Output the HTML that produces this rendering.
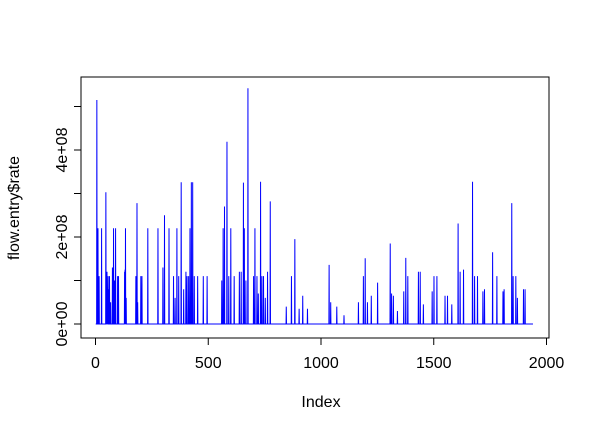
<!DOCTYPE html>
<html><head><meta charset="utf-8"><style>
body{margin:0;background:#fff}
svg text{font-family:"Liberation Sans",sans-serif;font-size:16px;fill:#000}
</style></head><body>
<svg width="591" height="432" xmlns="http://www.w3.org/2000/svg">
<rect x="81" y="77" width="468" height="261" fill="none" stroke="#000" stroke-width="1"/>
<g id="axes"></g>
<polyline id="line" fill="none" stroke="#0000ff" stroke-width="1"/>
<text x="321" y="407" text-anchor="middle">Index</text>
<text transform="translate(19,208) rotate(-90)" text-anchor="middle">flow.entry$rate</text>
</svg>
<script>
const N = 1940;
const spikeIdx = [5,10,15,26,45,48,50,52,55,58,61,66,74,79,84,88,97,101,128,130,132,135,178,183,186,200,205,231,276,298,305,325,345,352,360,368,379,390,400,405,412,418,424,430,437,452,477,494,559,565,571,582,590,599,614,637,645,655,659,666,675,700,706,715,721,731,737,744,752,762,774,845,868,883,902,918,939,1035,1042,1069,1101,1165,1187,1195,1205,1222,1250,1306,1312,1320,1338,1366,1375,1384,1431,1439,1453,1492,1500,1513,1549,1560,1579,1607,1616,1631,1671,1680,1693,1717,1724,1760,1779,1806,1811,1845,1851,1863,1870,1897,1904];
const spikeVal = [5.15,2.2,1.1,2.2,3.03,1.0,1.2,0.6,1.1,0.8,1.1,0.5,1.3,2.2,1.0,2.2,1.1,1.1,1.2,1.25,2.2,0.6,1.1,2.78,0.5,1.1,1.1,2.2,2.2,1.3,2.5,2.2,1.1,0.6,2.2,1.1,3.26,0.8,1.2,1.1,1.1,2.2,3.26,3.26,1.1,1.1,1.1,1.1,1.0,2.2,2.7,4.19,1.1,2.2,1.1,1.2,1.2,3.25,2.2,1.0,5.42,1.1,2.2,1.1,0.7,3.27,1.1,1.1,0.6,1.2,2.82,0.4,1.1,1.95,0.35,0.65,0.35,1.36,0.5,0.4,0.2,0.5,1.1,1.51,0.5,0.65,0.95,1.85,0.7,0.65,0.3,0.75,1.52,1.1,1.2,1.2,0.45,0.75,1.1,1.1,0.65,0.65,0.45,2.31,1.2,1.25,3.27,1.1,1.1,0.75,0.8,1.65,1.1,0.75,0.8,2.78,1.1,1.1,0.6,0.8,0.8];
const xTicks = [0,500,1000,1500,2000];
const yTicks = [0,1,2,3,4,5];
const yLabels = ["0e+00","","2e+08","","4e+08",""];
const sx = v => 95.5 + v*0.2255;
const sy = v => 324 - v*43.5;
const ns="http://www.w3.org/2000/svg";
const g=document.getElementById('axes');
function mk(t,a){const e=document.createElementNS(ns,t);for(const k in a)e.setAttribute(k,a[k]);g.appendChild(e);return e;}
let e=mk('line',{x1:sx(0),x2:sx(2000),y1:338,y2:338,stroke:'#000'});


e=mk('line',{x1:81,x2:81,y1:sy(0),y2:sy(5),stroke:'#000'});


xTicks.forEach(t=>{
  const l=mk('line',{x1:sx(t),x2:sx(t),y1:338,y2:345,stroke:'#000'});
  
  
  const tx=mk('text',{x:sx(t),y:368,'text-anchor':'middle'});tx.textContent=t;
  
  
});
yTicks.forEach((t,i)=>{
  const l=mk('line',{x1:74,x2:81,y1:sy(t),y2:sy(t),stroke:'#000'});
  
  
  if(yLabels[i]){const tx=mk('text',{transform:`translate(67,${sy(t)}) rotate(-90)`,'text-anchor':'middle'});tx.textContent=yLabels[i];
  
  }
});
const series=new Array(N).fill(0);
spikeIdx.forEach((k,i)=>{series[k]=spikeVal[i];});
document.getElementById('line').setAttribute('points',series.map((v,i)=>sx(i+1).toFixed(2)+','+sy(v).toFixed(2)).join(' '));
</script>
</body></html>
